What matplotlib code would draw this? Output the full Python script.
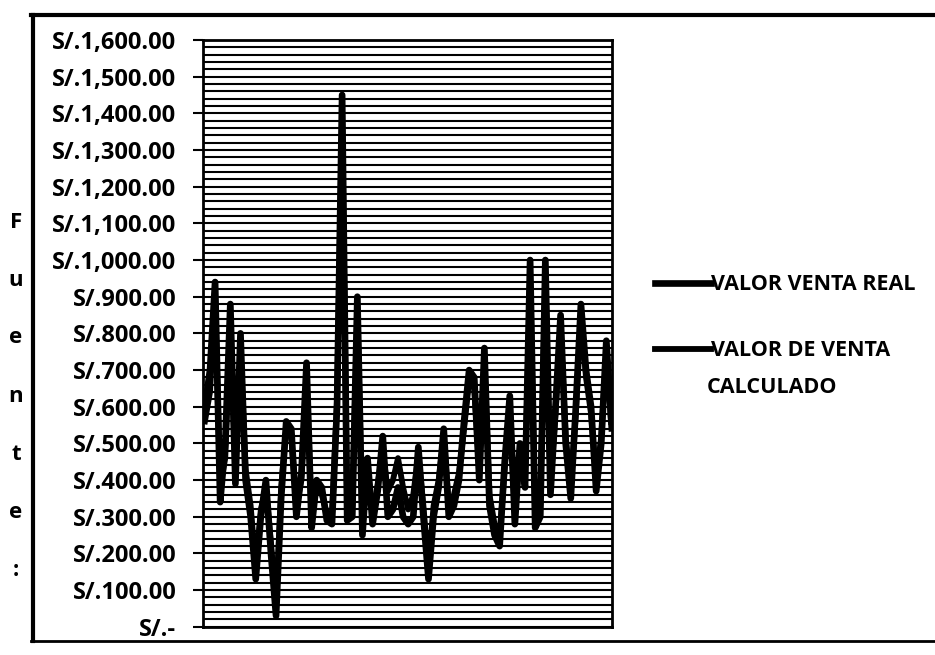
import numpy as np
import matplotlib.pyplot as plt
from matplotlib.ticker import MultipleLocator, FuncFormatter
from matplotlib.lines import Line2D

# valores (S/.)
valor_real = [600, 700, 940, 340, 500, 880, 390, 800, 400, 300,
              130, 300, 400, 200, 30, 350, 560, 540, 300, 420,
              720, 270, 400, 380, 290, 280, 600, 1450, 290, 300,
              900, 250, 460, 280, 370, 520, 300, 320, 380, 300,
              280, 300, 490, 300, 130, 300, 380, 540, 300, 330,
              400, 560, 700, 680, 400, 760, 330, 250, 220, 450,
              630, 280, 500, 380, 1000, 270, 300, 1000, 360, 600,
              850, 500, 350, 600, 880, 700, 600, 370, 500, 780, 560]

valor_calc = [560, 640, 900, 380, 460, 820, 420, 760, 430, 330,
              160, 320, 380, 230, 60, 380, 540, 520, 330, 400,
              690, 300, 380, 360, 310, 300, 620, 1400, 310, 330,
              870, 280, 440, 300, 390, 480, 370, 400, 460, 380,
              320, 360, 470, 330, 160, 330, 400, 520, 330, 360,
              420, 540, 670, 650, 430, 730, 360, 280, 250, 430,
              600, 310, 480, 400, 960, 300, 330, 960, 390, 580,
              820, 520, 380, 580, 850, 680, 580, 400, 520, 750, 540]

x = np.arange(1, len(valor_real) + 1)

plt.rcParams['font.family'] = ['Open Sans', 'DejaVu Sans']

fig = plt.figure(figsize=(9.35, 6.55), dpi=100)
ax = fig.add_axes([0.217, 0.043, 0.438, 0.896])

l1, = ax.plot(x, valor_real, color='black', lw=4.8, solid_joinstyle='round')
l2, = ax.plot(x, valor_calc, color='black', lw=4.2, solid_joinstyle='round')

ax.set_ylim(0, 1600)
ax.set_xlim(0.6, len(x) + 0.2)
ax.yaxis.set_major_locator(MultipleLocator(100))
ax.yaxis.set_minor_locator(MultipleLocator(20))
ax.grid(axis='y', which='both', color='black', lw=1.5)
ax.set_axisbelow(True)
ax.set_xticks([])


def fmt(v, pos):
    if v == 0:
        return 'S/.-'
    return 'S/.{:,.2f}'.format(v)


ax.yaxis.set_major_formatter(FuncFormatter(fmt))
ax.tick_params(axis='y', which='major', length=7, width=1.5, labelsize=17, pad=12)
ax.tick_params(axis='y', which='minor', length=0)
for t in ax.get_yticklabels():
    t.set_fontweight('bold')
for s in ax.spines.values():
    s.set_linewidth(2)

# leyenda
fig.legend([l1, l2], ['VALOR VENTA REAL', 'VALOR DE VENTA'],
           loc='center left', bbox_to_anchor=(0.68, 0.515), frameon=False,
           handlelength=2.6, handletextpad=0.0, labelspacing=2.1,
           prop={'weight': 'bold', 'size': 15.5})
fig.text(0.756, 0.408, 'CALCULADO', fontsize=15.5, fontweight='bold',
         ha='left', va='center')

# marco y texto "Fuente:"
fig.add_artist(Line2D([0.033, 1.0], [0.977, 0.977], color='black', lw=3))
fig.add_artist(Line2D([0.033, 1.0], [0.022, 0.022], color='black', lw=2))
fig.add_artist(Line2D([0.035, 0.035], [0.022, 0.977], color='black', lw=3))
for i, ch in enumerate('Fuente:'):
    fig.text(0.017, 1 - (222 + i * 58) / 655, ch, fontsize=16, fontweight='bold',
             ha='center', va='center')

fig.savefig('out.png', dpi=100)
